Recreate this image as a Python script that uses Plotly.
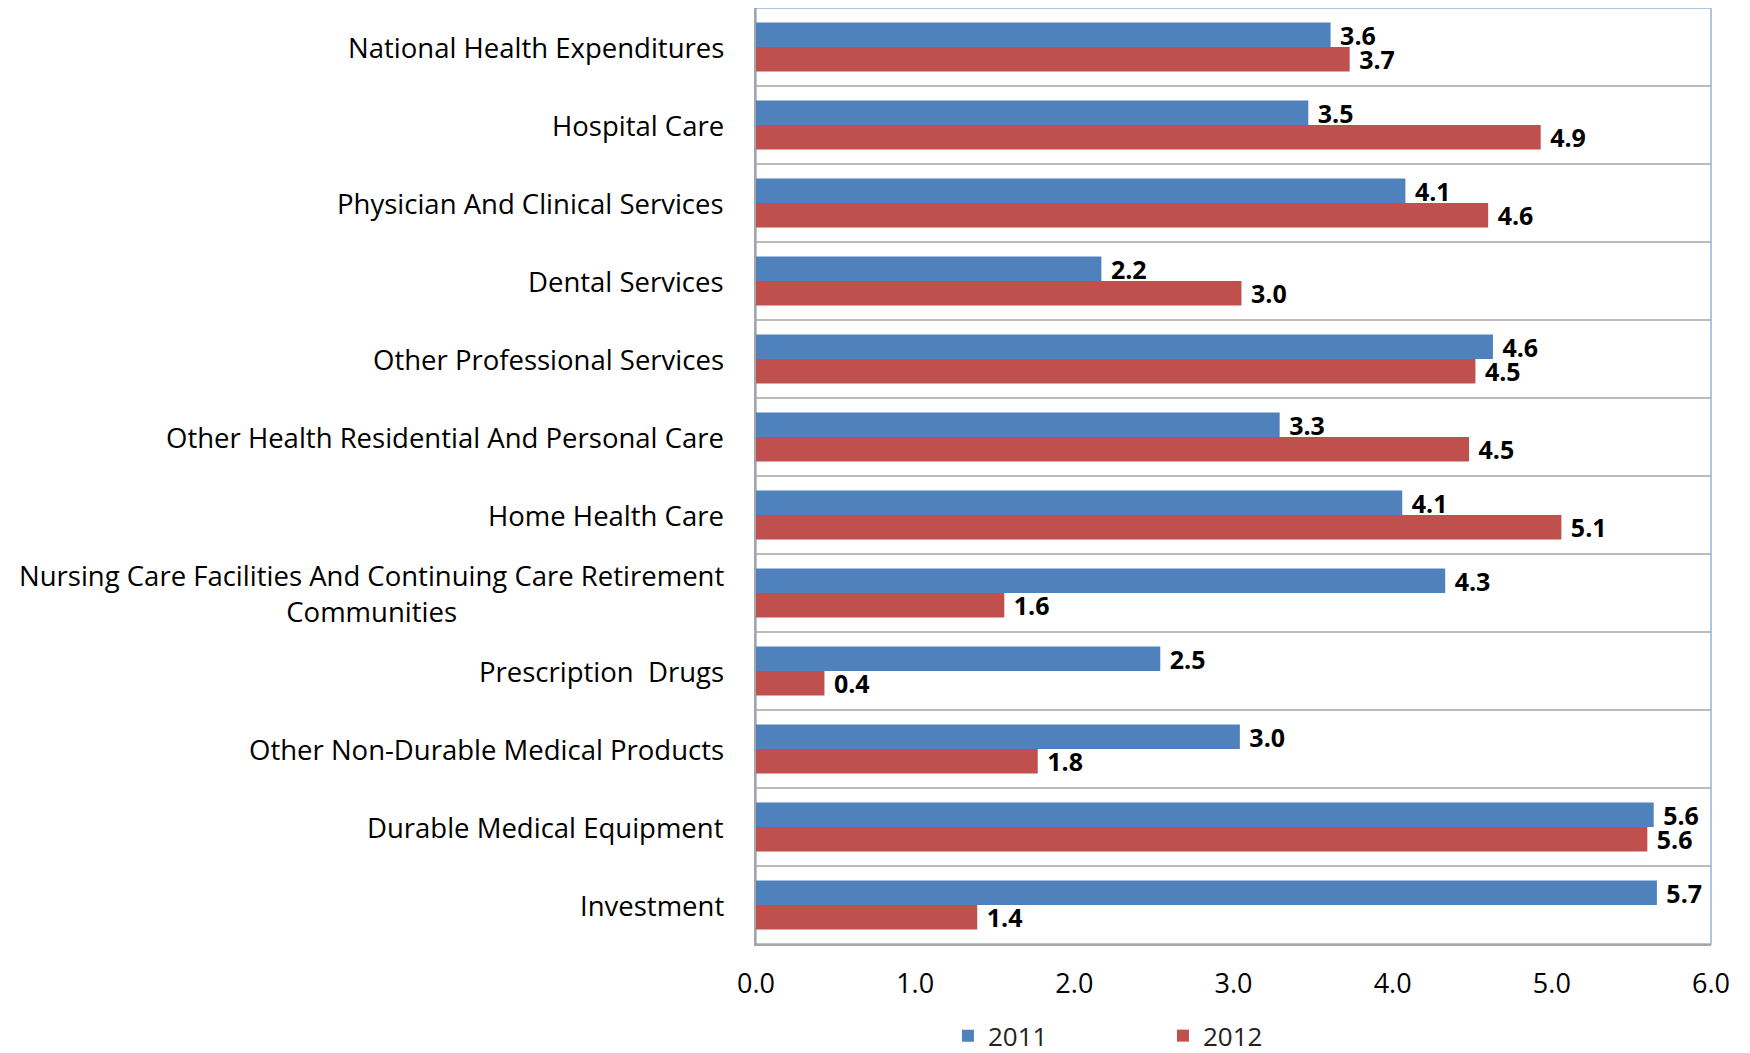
import plotly.graph_objects as go

categories = [
    "National Health Expenditures",
    "Hospital Care",
    "Physician And Clinical Services",
    "Dental Services",
    "Other Professional Services",
    "Other Health Residential And Personal Care",
    "Home Health Care",
    "Nursing Care Facilities And Continuing Care Retirement<br>Communities",
    "Prescription  Drugs",
    "Other Non-Durable Medical Products",
    "Durable Medical Equipment",
    "Investment",
]
values_2011 = [3.61, 3.47, 4.08, 2.17, 4.63, 3.29, 4.06, 4.33, 2.54, 3.04, 5.64, 5.66]
values_2012 = [3.73, 4.93, 4.60, 3.05, 4.52, 4.48, 5.06, 1.56, 0.43, 1.77, 5.60, 1.39]
series_names = ["2011", "2012"]
x_ticks = [0, 1, 2, 3, 4, 5, 6]

FONT = "Open Sans"
BLUE = "#4F81BD"
RED = "#C0504D"

fig = go.Figure()
for name, vals, col in [(series_names[0], values_2011, BLUE), (series_names[1], values_2012, RED)]:
    fig.add_trace(go.Bar(
        y=categories, x=vals, name=name, orientation="h",
        marker=dict(color=col, line=dict(width=0)),
        text=["\u00a0" + f"{v:.1f}" for v in vals], textposition="outside",
        textfont=dict(family=FONT, size=25, color="black", weight="bold"),
        constraintext="none", cliponaxis=False,
    ))

shapes = []
for i in range(len(categories) - 1):
    shapes.append(dict(type="line", xref="paper", yref="y", x0=0, x1=1,
                       y0=i + 0.5, y1=i + 0.5, line=dict(color="#A6A6A6", width=1.5), layer="below"))
shapes.append(dict(type="rect", xref="paper", yref="paper", x0=0, x1=1, y0=0, y1=1,
                   line=dict(color="#95B3D7", width=1.5), layer="below"))

annotations = []
for c in categories:
    annotations.append(dict(xref="paper", yref="y", x=-0.031, y=c, text=c, showarrow=False,
                            xanchor="right", yanchor="middle", align="center",
                            font=dict(family=FONT, size=27.5, color="black")))

fig.update_layout(
    width=1742, height=1045,
    margin=dict(l=748, r=39, t=0, b=109, autoexpand=False),
    paper_bgcolor="white", plot_bgcolor="white",
    barmode="group", bargap=0.37, bargroupgap=0,
    font=dict(family=FONT, size=26, color="black"),
    shapes=shapes, annotations=annotations,
    showlegend=True,
    legend=dict(orientation="h", x=0.201, xanchor="left", y=-0.098, yanchor="middle",
                entrywidth=170, entrywidthmode="pixels", itemwidth=30,
                font=dict(family=FONT, size=26, color="#222")),
)
fig.update_xaxes(range=[0, 6], tickvals=x_ticks, ticktext=[f"{t:.1f}" for t in x_ticks],
                 showgrid=False, zeroline=False, showline=True, linecolor="#A6A6A6", linewidth=1.5,
                 ticks="", tickfont=dict(family=FONT, size=27, color="black"), ticklabelstandoff=15)
fig.update_yaxes(autorange="reversed", showticklabels=False, showgrid=False,
                 showline=True, linecolor="#A6A6A6", linewidth=1.5, ticks="")

fig.write_html("out.html")
